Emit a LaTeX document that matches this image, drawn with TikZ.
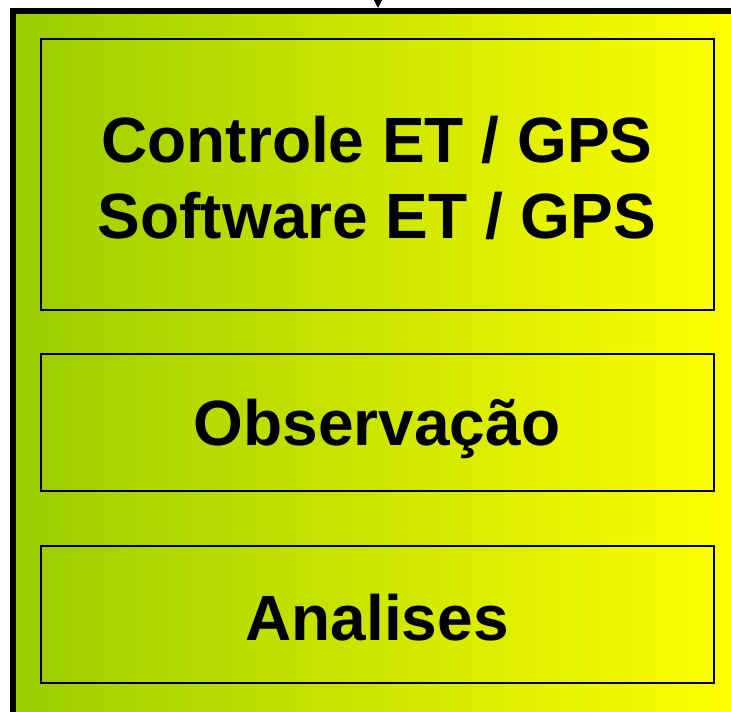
\documentclass[tikz,border=0pt]{standalone}
\usepackage{fontspec}
\setmainfont{Liberation Sans}
\usetikzlibrary{arrows.meta}
\definecolor{leafgreen}{RGB}{155,205,0}
\definecolor{brightyellow}{RGB}{255,255,0}
\tikzset{
  layerbox/.style={draw=black, line width=2pt, fill=none},
  layertext/.style={font=\bfseries\fontsize{48}{57}\selectfont, align=center, text=black},
}
\begin{document}
\begin{tikzpicture}[x=0.75pt, y=-0.75pt]
  \useasboundingbox (0,0) rectangle (731,712);
  \begin{scope}
    \clip (0,0) rectangle (731,712);
    % outer panel with a green-to-yellow gradient
    \shade[left color=leafgreen, right color=brightyellow] (13,11) rectangle (740,720);
    \draw[line width=4.5pt, line cap=rect] (13,720) -- (13,11) -- (740,11);
  \end{scope}
  % incoming arrow from above
  \coordinate (src) at (378,-4);
  \coordinate (dst) at (378,8);
  \draw[line width=1pt, -{Triangle[length=7pt, width=7pt]}] (src) -- (dst);
  % stacked layers
  \draw[layerbox] (41,39) rectangle (714,310);
  \node[layertext] (ctrl) at (377,178) {Controle ET / GPS\\Software ET / GPS};
  \draw[layerbox] (41,354) rectangle (714,491);
  \node[layertext] (obs) at (377,429) {Observação};
  \draw[layerbox] (41,546) rectangle (714,683);
  \node[layertext] (anal) at (377,618) {Analises};
\end{tikzpicture}
\end{document}
